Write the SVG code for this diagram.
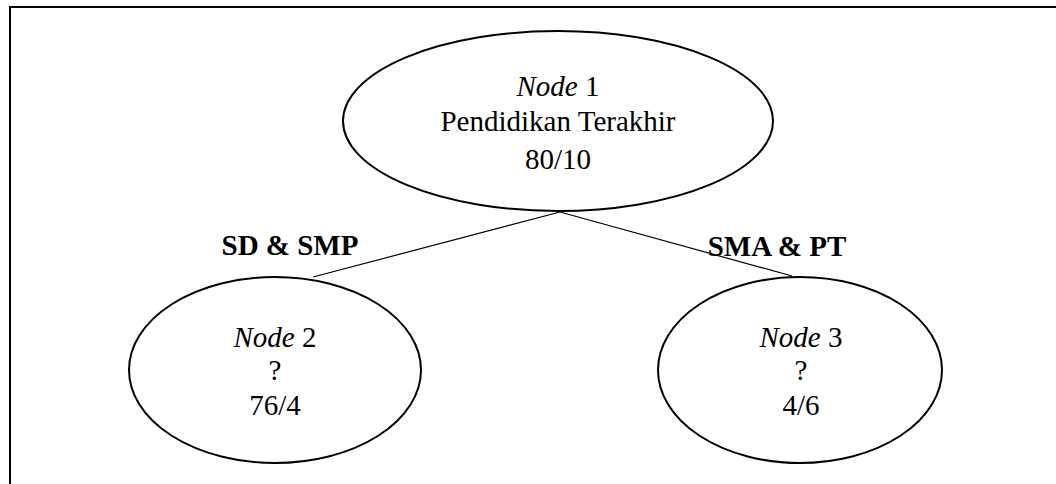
<svg xmlns="http://www.w3.org/2000/svg" width="1056" height="484" viewBox="0 0 1056 484">
  <style>
    .node { fill: #ffffff; stroke: #000000; stroke-width: 2; }
    .edge { stroke: #000000; stroke-width: 1.2; fill: none; }
    .frame { stroke: #000000; stroke-width: 2; fill: none; }
    text { font-family: "Liberation Serif", "Times New Roman", serif; font-size: 29px; fill: #000000; text-anchor: middle; }
    .it { font-style: italic; }
    .lbl { font-weight: bold; }
  </style>
  <rect width="1056" height="484" fill="#ffffff"/>
  <!-- outer frame (top and left edges) -->
  <path class="frame" d="M10,484 V7 H1056"/>
  <!-- branches -->
  <g id="connectors">
    <line class="edge" x1="560" y1="212" x2="313" y2="277"/>
    <line class="edge" x1="560" y1="212" x2="792" y2="276"/>
    <text class="lbl" x="290" y="255">SD &amp; SMP</text>
    <text class="lbl" x="777" y="256">SMA &amp; PT</text>
  </g>
  <g id="node1">
    <ellipse class="node" cx="558" cy="121" rx="215" ry="90"/>
    <text x="558" y="96"><tspan class="it">Node</tspan> 1</text>
    <text x="558" y="131">Pendidikan Terakhir</text>
    <text x="558" y="169">80/10</text>
  </g>
  <g id="node2">
    <ellipse class="node" cx="275" cy="370" rx="146" ry="93"/>
    <text x="275" y="347"><tspan class="it">Node</tspan> 2</text>
    <text x="275" y="380">?</text>
    <text x="275" y="415">76/4</text>
  </g>
  <g id="node3">
    <ellipse class="node" cx="800" cy="370" rx="142" ry="93"/>
    <text x="801" y="347"><tspan class="it">Node</tspan> 3</text>
    <text x="801" y="380">?</text>
    <text x="801" y="415">4/6</text>
  </g>
</svg>
